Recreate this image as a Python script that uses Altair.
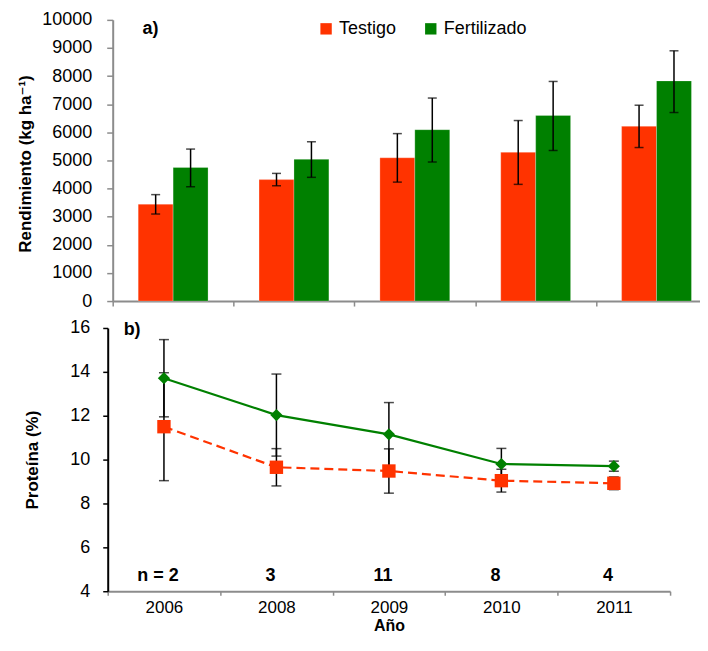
import altair as alt
import pandas as pd

years = ["2006", "2008", "2009", "2010", "2011"]
treatments = ["Testigo", "Fertilizado"]
colors = ["#FF3300", "#008000"]

# a) Rendimiento (kg/ha)
rend_testigo = [3445, 4320, 5095, 5290, 6215]
rend_testigo_lo = [3095, 4100, 4230, 4150, 5460]
rend_testigo_hi = [3785, 4540, 5955, 6420, 6965]
rend_fert = [4750, 5040, 6095, 6600, 7830]
rend_fert_lo = [4065, 4400, 4945, 5355, 6705]
rend_fert_hi = [5405, 5665, 7220, 7810, 8900]

# b) Proteína (%)
prot_testigo = [11.5, 9.65, 9.48, 9.04, 8.92]
prot_testigo_err = [2.46, 0.85, 1.01, 0.52, 0.29]
prot_fert = [13.71, 12.03, 11.15, 9.80, 9.70]
prot_fert_err = [1.76, 1.87, 1.45, 0.71, 0.23]

n_labels = ["n = 2", "3", "11", "8", "4"]

FONT = "Liberation Sans, DejaVu Sans"

df_a = pd.DataFrame({
    "year": years * 2,
    "trt": ["Testigo"] * 5 + ["Fertilizado"] * 5,
    "value": rend_testigo + rend_fert,
    "lo": rend_testigo_lo + rend_fert_lo,
    "hi": rend_testigo_hi + rend_fert_hi,
})

df_b = pd.DataFrame({
    "year": years * 2,
    "trt": ["Testigo"] * 5 + ["Fertilizado"] * 5,
    "value": prot_testigo + prot_fert,
    "err": prot_testigo_err + prot_fert_err,
})
df_b["lo"] = df_b["value"] - df_b["err"]
df_b["hi"] = df_b["value"] + df_b["err"]

df_n = pd.DataFrame({"year": years, "n": n_labels})

color_scale = alt.Scale(domain=treatments, range=colors)

# ---------- Panel a ----------
W_A, H_A = 606, 282
x_a = alt.X(
    "year:N", sort=years,
    scale=alt.Scale(paddingInner=0, paddingOuter=0),
    axis=alt.Axis(title=None, labels=False, tickBand="extent", tickSize=5,
                  tickColor="#8c8c8c", domainColor="#8c8c8c", domainWidth=2,
                  tickWidth=1.5),
)
xo_a = alt.XOffset("trt:N", sort=treatments,
                   scale=alt.Scale(paddingInner=0, paddingOuter=0.73))


def y_a(field):
    return alt.Y(
        f"{field}:Q",
        scale=alt.Scale(domain=[0, 10000], nice=False),
        axis=alt.Axis(values=list(range(0, 10001, 1000)), format="d",
                      title="Rendimiento (kg ha\u207b\u00b9)",
                      titleX=-78, titleY=144,
                      domainColor="#8c8c8c", domainWidth=2, tickColor="#8c8c8c",
                      tickSize=6, tickWidth=1.5, labelPadding=15),
    )


base_a = alt.Chart(df_a).encode(x=x_a, xOffset=xo_a)
bars = base_a.mark_bar(stroke="#ffffff", strokeOpacity=0.5, strokeWidth=0.5).encode(
    y=y_a("value"),
    color=alt.Color(
        "trt:N", scale=color_scale, sort=treatments,
        legend=alt.Legend(title=None, orient="none", legendX=205, legendY=0,
                          direction="horizontal", symbolType="square",
                          symbolSize=130, symbolStrokeWidth=0, labelFontSize=18,
                          labelFont=FONT, labelColor="black", labelOffset=4,
                          columnPadding=25, padding=0),
    ),
)
err_a = base_a.mark_rule(color="black", strokeWidth=1.5).encode(
    y=y_a("lo"), y2="hi:Q")
cap_lo_a = base_a.mark_tick(color="black", size=9, thickness=1.5).encode(y=y_a("lo"))
cap_hi_a = base_a.mark_tick(color="black", size=9, thickness=1.5).encode(y=y_a("hi"))
lab_a = alt.Chart(pd.DataFrame({"t": ["a)"]})).mark_text(
    font=FONT, fontSize=18, fontWeight="bold", align="left", baseline="middle",
    color="black").encode(text="t:N", x=alt.value(30), y=alt.value(9))

top = alt.layer(bars, err_a, cap_lo_a, cap_hi_a, lab_a).properties(
    width=W_A, height=H_A)

# ---------- Panel b ----------
W_B, H_B = 559, 264
x_b = alt.X(
    "year:N", sort=years,
    scale=alt.Scale(range=[-5, 559], paddingInner=0, paddingOuter=0),
    axis=alt.Axis(title="Año", labelAngle=0, tickBand="extent", tickSize=4,
                  tickColor="#8c8c8c", domainColor="#8c8c8c", domainWidth=2,
                  tickWidth=1.5, labelPadding=4, labelFontSize=17,
                  titlePadding=2, titleFontSize=16),
)


def y_b(field):
    return alt.Y(
        f"{field}:Q",
        scale=alt.Scale(domain=[4, 16], nice=False, zero=False),
        axis=alt.Axis(values=[4, 6, 8, 10, 12, 14, 16], title="Proteína (%)",
                      offset=5, titleX=-66,
                      domainColor="black", domainWidth=2, tickColor="black",
                      tickSize=5, tickWidth=1.5, labelPadding=13),
    )


base_b = alt.Chart(df_b).encode(x=x_b)
err_b = base_b.mark_rule(color="black", strokeWidth=1.5).encode(y=y_b("lo"), y2="hi:Q")
cap_lo_b = base_b.mark_tick(color="black", size=10, thickness=1.5).encode(y=y_b("lo"))
cap_hi_b = base_b.mark_tick(color="black", size=10, thickness=1.5).encode(y=y_b("hi"))

test_b = base_b.transform_filter(alt.datum.trt == "Testigo")
fert_b = base_b.transform_filter(alt.datum.trt == "Fertilizado")
line_t = test_b.mark_line(color=colors[0], strokeWidth=2.2, strokeDash=[9, 5]).encode(y=y_b("value"))
line_f = fert_b.mark_line(color=colors[1], strokeWidth=2.2).encode(y=y_b("value"))
pts_t = test_b.mark_point(filled=True, opacity=1, shape="square", size=180,
                          color=colors[0]).encode(y=y_b("value"))
pts_f = fert_b.mark_point(filled=True, opacity=1, shape="diamond", size=150,
                          color=colors[1]).encode(y=y_b("value"))

n_txt = alt.Chart(df_n).mark_text(font=FONT, fontSize=18, fontWeight="bold",
                                  color="black", dx=-6, baseline="middle").encode(
    x=x_b, y=alt.datum(4.68), text="n:N")
lab_b = alt.Chart(pd.DataFrame({"t": ["b)"]})).mark_text(
    font=FONT, fontSize=18, fontWeight="bold", align="left", baseline="middle",
    color="black").encode(text="t:N", x=alt.value(11), y=alt.value(2))

bottom = alt.layer(err_b, cap_lo_b, cap_hi_b, line_t, line_f, pts_t, pts_f,
                   n_txt, lab_b).properties(width=W_B, height=H_B)

chart = alt.vconcat(top, bottom, spacing=27, bounds="flush").properties(
    padding={"left": 8, "top": 2, "right": -18, "bottom": 0}
).configure(font=FONT).configure_view(stroke=None).configure_axis(
    labelFont=FONT, labelFontSize=18, labelColor="black",
    titleFont=FONT, titleFontSize=17, titleColor="black", titleFontWeight="bold",
    grid=False,
)

chart.save("out.html", embed_options={"renderer": "svg", "actions": False})
